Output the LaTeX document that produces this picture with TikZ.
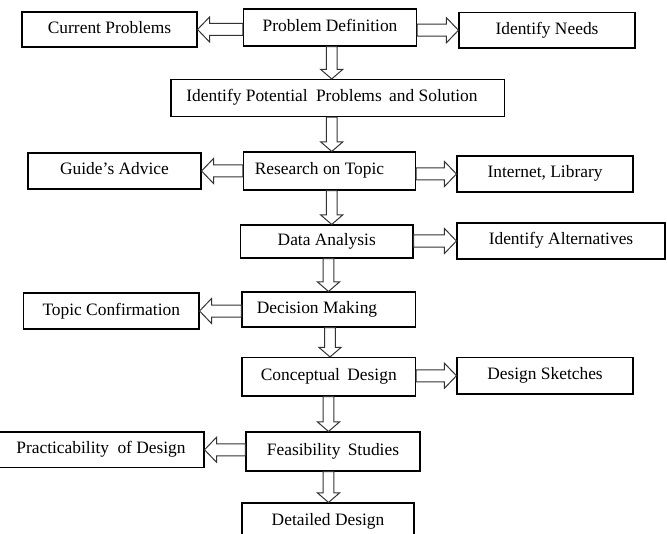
\documentclass[tikz,border=0pt]{standalone}
\usepackage{fontspec}
\setmainfont{Liberation Serif}
\usetikzlibrary{calc}
\tikzset{
  box/.style={draw=black, line width=1.1bp, fill=white, inner sep=0pt,
    font=\fontsize{17.4bp}{20bp}\selectfont, text height=12bp, text depth=4bp},
  blk/.style={draw=black!80, line width=1bp, fill=white, line join=miter},
  arrL/.style={to path={let \p1=(\tikztostart), \p2=(\tikztotarget) in
     (\x1,{\y1+6bp}) -- ({\x2+12bp},{\y1+6bp}) -- ({\x2+12bp},{\y1+12.5bp}) -- (\x2,\y1)
     -- ({\x2+12bp},{\y1-12.5bp}) -- ({\x2+12bp},{\y1-6bp}) -- (\x1,{\y1-6bp}) -- cycle}},
  arrR/.style={to path={let \p1=(\tikztostart), \p2=(\tikztotarget) in
     (\x1,{\y1+6bp}) -- ({\x2-12bp},{\y1+6bp}) -- ({\x2-12bp},{\y1+12.5bp}) -- (\x2,\y1)
     -- ({\x2-12bp},{\y1-12.5bp}) -- ({\x2-12bp},{\y1-6bp}) -- (\x1,{\y1-6bp}) -- cycle}},
  arrD/.style={to path={let \p1=(\tikztostart), \p2=(\tikztotarget) in
     ({\x1-5.3bp},\y1) -- ({\x1-5.3bp},{\y2+9.5bp}) -- ({\x1-11bp},{\y2+9.5bp}) -- (\x1,\y2)
     -- ({\x1+11bp},{\y2+9.5bp}) -- ({\x1+5.3bp},{\y2+9.5bp}) -- ({\x1+5.3bp},\y1) -- cycle}},
}
\begin{document}
\begin{tikzpicture}[x=1bp, y=-1bp]
\useasboundingbox (0,0) rectangle (667,534);
\clip (0,0) rectangle (667,534);
% boxes
\node[box, minimum width=175bp, minimum height=35bp]   (CP)  at (109.5,29.5)  {Current Problems};
\node[box, minimum width=173bp, minimum height=37bp]   (PD)  at (330,27.5)    {Problem Definition};
\node[box, minimum width=176bp, minimum height=35.5bp] (IN)  at (547,30.25)   {Identify Needs};
\node[box, minimum width=333.5bp, minimum height=37bp] (IP)  at (337.75,98)   {\hspace*{-11.5bp}Identify Potential\hspace{4bp} Problems\hspace{3bp} and Solution};
\node[box, minimum width=173bp, minimum height=36bp]   (GA)  at (114.5,171)   {Guide's Advice};
\node[box, minimum width=172bp, minimum height=38bp]   (RT)  at (329.5,171)   {\hspace*{-20bp}Research on Topic};
\node[box, minimum width=176bp, minimum height=36bp]   (IL)  at (545,174)     {Internet, Library};
\node[box, minimum width=172.5bp, minimum height=33bp] (DA)  at (326.75,241.5) {Data Analysis};
\node[box, minimum width=208bp, minimum height=36bp]   (IA)  at (561,241)     {Identify Alternatives};
\node[box, minimum width=175.5bp, minimum height=36bp] (TC)  at (111.25,311)  {Topic Confirmation};
\node[box, minimum width=173.5bp, minimum height=35bp] (DM)  at (328.75,309.5) {\hspace*{-23.5bp}Decision Making};
\node[box, minimum width=173.5bp, minimum height=38.5bp] (CD) at (328.75,376.75) {Conceptual\hspace{3bp} Design};
\node[box, minimum width=176bp, minimum height=36.5bp] (DS)  at (545,375.75)  {Design Sketches};
\node[box, minimum width=206bp, minimum height=35.5bp] (PoD) at (101,449.75)  {Practicability\hspace{4bp} of Design};
\node[box, minimum width=174bp, minimum height=39bp]   (FS)  at (333,451.5)   {Feasibility\hspace{3bp} Studies};
\node[box, minimum width=172bp, minimum height=37bp]   (DD)  at (328,521.5)   {Detailed Design};
% horizontal arrows
\draw[blk] (PD.west |- CP) to[arrL] (CP.east);
\draw[blk] (PD.east |- IN) to[arrR] (IN.west);
\draw[blk] (RT.west |- GA) to[arrL] (GA.east);
\draw[blk] (RT.east |- IL) to[arrR] (IL.west);
\draw[blk] (DA.east |- IA) to[arrR] (IA.west);
\draw[blk] (DM.west |- TC) to[arrL] (TC.east);
\draw[blk] (CD.east |- DS) to[arrR] (DS.west);
\draw[blk] (FS.west |- PoD) to[arrL] (PoD.east);
% vertical arrows
\draw[blk] ([xshift=1.7bp]PD.south) to[arrD] ([xshift=1.7bp]PD.south |- IP.north);
\draw[blk] ([xshift=-6bp]IP.south) to[arrD] ([xshift=-6bp]IP.south |- RT.north);
\draw[blk] ([xshift=2.2bp]RT.south) to[arrD] ([xshift=2.2bp]RT.south |- DA.north);
\draw[blk] ([xshift=1.75bp]DA.south) to[arrD] ([xshift=1.75bp]DA.south |- DM.north);
\draw[blk] ([xshift=1.25bp]DM.south) to[arrD] ([xshift=1.25bp]DM.south |- CD.north);
\draw[blk] ([xshift=-0.25bp]CD.south) to[arrD] ([xshift=-0.25bp]CD.south |- FS.north);
\draw[blk] ([xshift=-4.5bp]FS.south) to[arrD] ([xshift=-4.5bp]FS.south |- DD.north);
\end{tikzpicture}
\end{document}
